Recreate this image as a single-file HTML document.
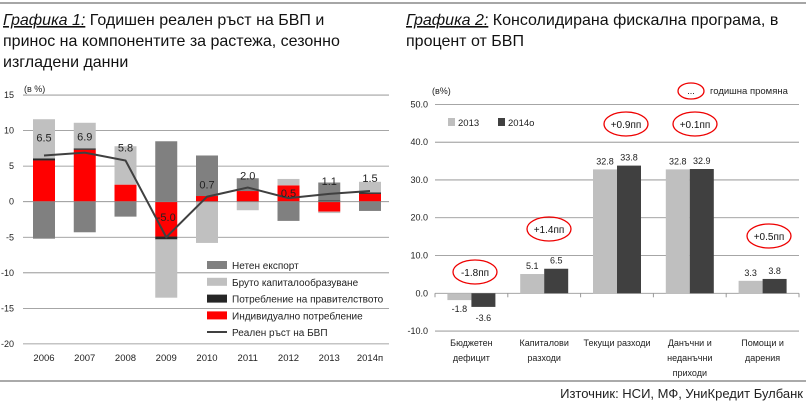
<!DOCTYPE html>
<html><head><meta charset="utf-8"><style>
html,body{margin:0;padding:0;background:#fff;width:806px;height:411px;overflow:hidden}
svg{display:block;font-family:"Liberation Sans",sans-serif}
</style></head><body>
<svg id="s" width="806" height="411" xmlns="http://www.w3.org/2000/svg">
<line x1="0" y1="3" x2="806" y2="3" stroke="#888" stroke-width="1.5"/>
<line x1="0" y1="381" x2="806" y2="381" stroke="#555" stroke-width="1"/>
<g font-size="16" fill="#111">
<text x="3" y="25"><tspan font-style="italic" text-decoration="underline">Графика 1:</tspan> Годишен реален ръст на БВП и</text>
<text x="3" y="46">принос на компонентите за растежа, сезонно</text>
<text x="3" y="67">изгладени данни</text>
<text x="406" y="25"><tspan font-style="italic" text-decoration="underline">Графика 2:</tspan> Консолидирана фискална програма, в</text>
<text x="406" y="46">процент от БВП</text>
</g>
<text x="803" y="398" font-size="13" text-anchor="end" fill="#222">Източник: НСИ, МФ, УниКредит Булбанк</text>
<g id="c1"></g><g id="c2"></g>
</svg>
<script>
var NS="http://www.w3.org/2000/svg";
function el(p,t,a,txt){var e=document.createElementNS(NS,t);for(var k in a)e.setAttribute(k,a[k]);if(txt!=null)e.textContent=txt;p.appendChild(e);return e;}
var g1=document.getElementById("c1");
function Y1(v){return 201.7-7.11*v;}
el(g1,"text",{x:24,y:92,"font-size":9,fill:"#222"},"(в %)");
for(var v=15;v>=-20;v-=5){var y=Y1(v);if(v!=0)el(g1,"line",{x1:23,x2:389,y1:y,y2:y,stroke:"#888","stroke-width":0.8});
el(g1,"text",{x:14,y:y+3,"font-size":9,"text-anchor":"end",fill:"#222"},v);}
var DG="#808080",LG="#c0c0c0",BK="#262626",RD="#ff0000";
var bars=[
[[RD,0,5.8],[BK,5.8,6.1],[LG,6.1,11.6],[DG,0,-5.2]],
[[RD,0,7.3],[BK,7.3,7.5],[LG,7.5,11.1],[DG,0,-4.3]],
[[RD,0,2.4],[LG,2.4,7.8],[DG,0,-2.1]],
[[DG,0,8.5],[RD,0,-4.9],[BK,-4.9,-5.3],[LG,-5.3,-13.5]],
[[RD,0,0.8],[DG,0.8,6.5],[LG,0,-5.8]],
[[RD,0,1.5],[DG,1.5,3.3],[LG,0,-1.2]],
[[RD,0,2.3],[LG,2.3,3.2],[DG,0,-2.7]],
[[BK,0,0.2],[DG,0.2,2.7],[RD,0,-1.4],[LG,-1.4,-1.6]],
[[RD,0,1.1],[BK,1.1,1.3],[LG,1.3,2.8],[DG,0,-1.3]]];
var yrs=["2006","2007","2008","2009","2010","2011","2012","2013","2014п"];
var gdp=[6.5,6.9,5.8,-5.0,0.7,2.0,0.5,1.1,1.5];
function C1(i){return 44+40.75*i;}
bars.forEach(function(b,i){b.forEach(function(s){var a=Y1(Math.max(s[1],s[2])),bb=Y1(Math.min(s[1],s[2]));
el(g1,"rect",{x:C1(i)-11,y:a,width:22,height:bb-a,fill:s[0]});});
el(g1,"text",{x:C1(i),y:361,"font-size":9.5,"text-anchor":"middle",fill:"#222"},yrs[i]);});
el(g1,"line",{x1:23,x2:389,y1:Y1(0),y2:Y1(0),stroke:"#888","stroke-width":0.8});
var pts=gdp.map(function(v,i){return C1(i)+","+Y1(v);}).join(" ");
el(g1,"polyline",{points:pts,fill:"none",stroke:"#404040","stroke-width":2});
var lo=[[0,-8],[0,-8],[0,-9],[0,22],[0,-8],[0,-8],[0,-1],[0,-9],[0,-9]];
gdp.forEach(function(v,i){el(g1,"text",{x:C1(i),y:(i==3?221:Y1(v)+lo[i][1]+(i==0?-6:0)+(i==1?-4:0)),"font-size":11,"text-anchor":"middle",fill:"#222"},v.toFixed(1));});
var leg=[[DG,"Нетен експорт"],[LG,"Бруто капиталообразуване"],[BK,"Потребление на правителството"],[RD,"Индивидуално потребление"]];
leg.forEach(function(l,i){var y=265+16.8*i;el(g1,"rect",{x:207,y:y-4,width:20,height:8,fill:l[0]});
el(g1,"text",{x:232,y:y+4,"font-size":10,fill:"#222"},l[1]);});
el(g1,"line",{x1:207,x2:227,y1:332,y2:332,stroke:"#404040","stroke-width":2});
el(g1,"text",{x:232,y:336,"font-size":10,fill:"#222"},"Реален ръст на БВП");

var g2=document.getElementById("c2");
function Y2(v){return 293.3-3.778*v;}
el(g2,"text",{x:432,y:94,"font-size":9,fill:"#222"},"(в%)");
for(var v=50;v>=-10;v-=10){var y=Y2(v);el(g2,"line",{x1:435,x2:799,y1:y,y2:y,stroke:v==0?"#999":"#888","stroke-width":0.8});
el(g2,"text",{x:428,y:y+3,"font-size":9,"text-anchor":"end",fill:"#222"},v.toFixed(1));}
for(var k=0;k<=5;k++){var x=435+72.8*k;el(g2,"line",{x1:x,x2:x,y1:Y2(0),y2:Y2(0)+4,stroke:"#999"});}
var d2=[[-1.8,-3.6],[5.1,6.5],[32.8,33.8],[32.8,32.9],[3.3,3.8]];
var cats=[["Бюджетен","дефицит"],["Капиталови","разходи"],["Текущи разходи"],["Данъчни и","неданъчни","приходи"],["Помощи и","дарения"]];
d2.forEach(function(d,i){var c=471.4+72.8*i;
[["#bfbfbf",d[0],c-24],["#404040",d[1],c]].forEach(function(s){var a=Y2(Math.max(0,s[1])),b=Y2(Math.min(0,s[1]));
el(g2,"rect",{x:s[2],y:a,width:24,height:b-a,fill:s[0]});
var ty=s[1]<0?b+12:a-5; if(i==0&&s[0]=="#404040")ty=b+14;
el(g2,"text",{x:s[2]+12,y:ty,"font-size":9,"text-anchor":"middle",fill:"#222"},s[1].toFixed(1));});
cats[i].forEach(function(t,j){el(g2,"text",{x:c,y:346+15*j,"font-size":9,"text-anchor":"middle",fill:"#222"},t);});});
el(g2,"rect",{x:448,y:118,width:7,height:8,fill:"#bfbfbf"});
el(g2,"text",{x:458,y:126,"font-size":9.5,fill:"#222"},"2013");
el(g2,"rect",{x:498,y:118,width:7,height:8,fill:"#404040"});
el(g2,"text",{x:508,y:126,"font-size":9.5,fill:"#222"},"2014о");
var ann=[[475,272,"-1.8пп"],[549,229,"+1.4пп"],[626,124,"+0.9пп"],[695,124,"+0.1пп"],[769,236,"+0.5пп"]];
ann.forEach(function(a){el(g2,"ellipse",{cx:a[0],cy:a[1],rx:22,ry:12,fill:"none",stroke:"#e00",
"stroke-width":1.3});el(g2,"text",{x:a[0],y:a[1]+4,"font-size":10,"text-anchor":"middle",fill:"#111"},a[2]);});
el(g2,"ellipse",{cx:691,cy:91,rx:13,ry:8,fill:"none",stroke:"#e00","stroke-width":1.3});
el(g2,"text",{x:691,y:94,"font-size":9,"text-anchor":"middle",fill:"#111"},"...");
el(g2,"text",{x:710,y:94,"font-size":9.5,fill:"#222"},"годишна промяна");
</script>
</body></html>
